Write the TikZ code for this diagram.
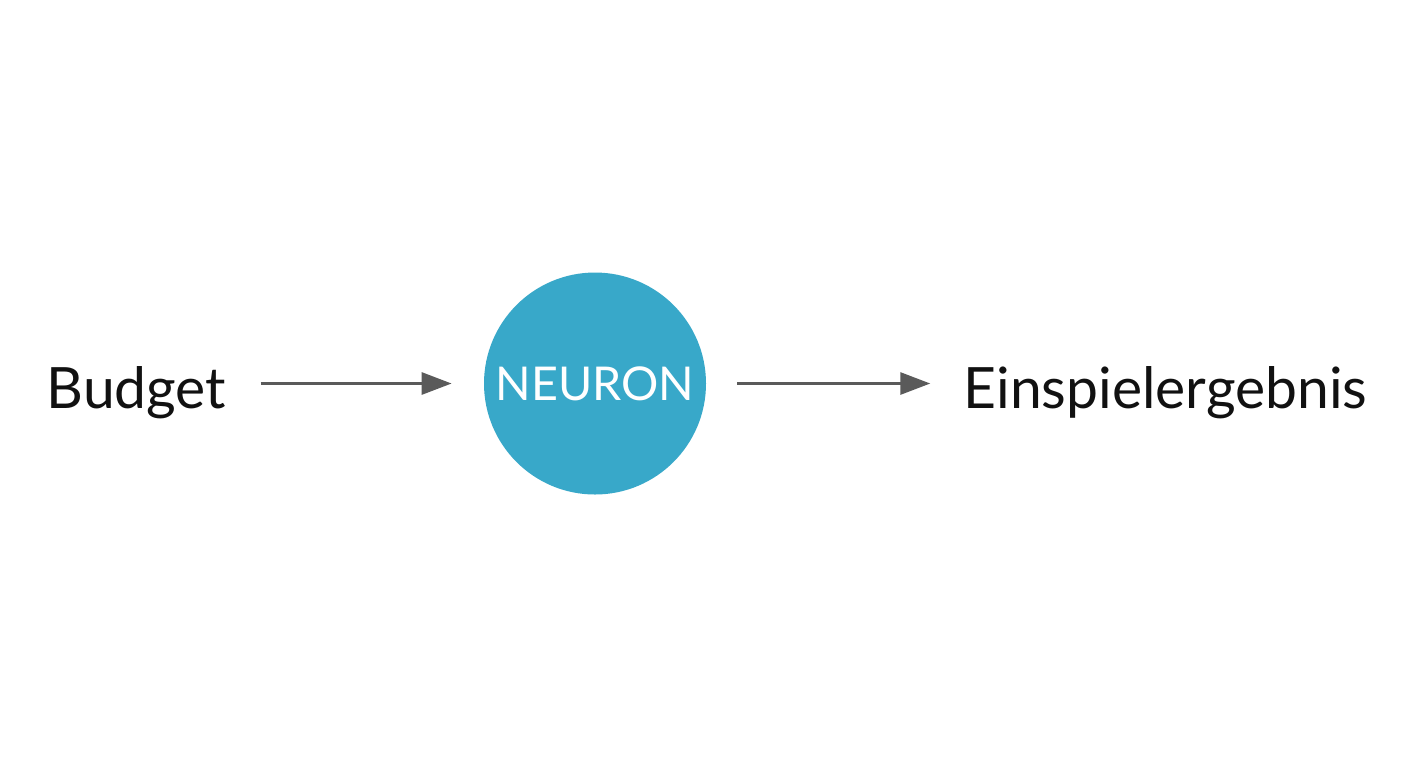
\documentclass[tikz,border=0pt]{standalone}
\usepackage{fontspec}
\setmainfont{Lato}
\usepackage{xcolor}
\usetikzlibrary{positioning,arrows.meta}
\definecolor{neuronblue}{HTML}{38A8C9}
\definecolor{arrowgray}{HTML}{5A5A5A}
\definecolor{labelink}{HTML}{111111}

\begin{document}
\begin{tikzpicture}[x=0.5pt, y=-0.5pt,
  label/.style ={font=\fontsize{28.5}{34}\selectfont, text=labelink, inner sep=0pt,
                 text height=28pt, text depth=3pt, anchor=base},
  neuron/.style={circle, fill=neuronblue, minimum size=111pt, inner sep=0pt,
                 text=white, font=\fontsize{23.3}{28}\selectfont},
  arrow/.style ={-{Triangle[length=15pt,width=11pt]}, draw=arrowgray, line width=1.5pt}]
\fill[white] (0,0) rectangle (1408,768);
\useasboundingbox (0,0) rectangle (1408,768);
\node[neuron] (neuron) at (595,383.5) {NEURON};
\node[label]  (budget) at (136.5,408.5) {Budget};
\node[label]  (result) at (1165.5,408.5) {Einspielergebnis};
\draw[arrow, shorten <=17pt, shorten >=16pt] (budget) -- (neuron);
\draw[arrow, shorten <=15.5pt, shorten >=16.5pt] (neuron) -- (result);
\end{tikzpicture}
\end{document}
